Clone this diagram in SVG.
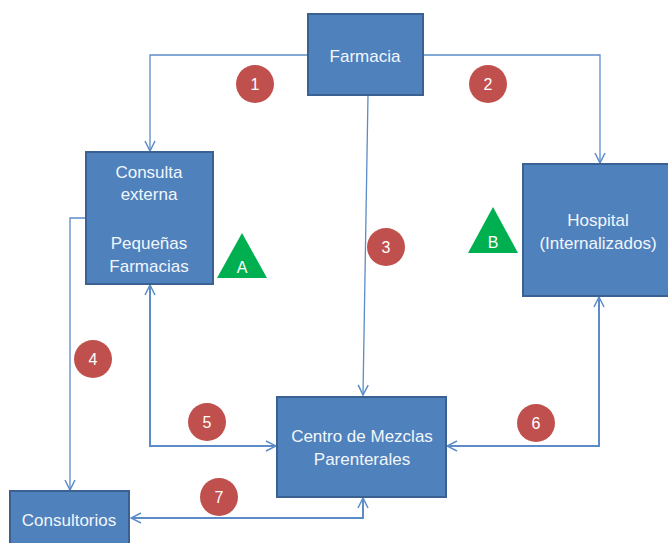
<svg xmlns="http://www.w3.org/2000/svg" width="668" height="543" viewBox="0 0 668 543">
  <defs>
    <style>
      .box { fill: #4F81BD; stroke: #3A6191; stroke-width: 2; }
      .lbl { font-family: "Liberation Sans", Arial, sans-serif; font-size: 17px; fill: #F2F6FB; text-anchor: middle; }
      .num { font-family: "Liberation Sans", Arial, sans-serif; font-size: 16px; fill: #FFFFFF; text-anchor: middle; }
      .badge { fill: #C0504D; }
      .tri { fill: #00B050; }
      .wire { fill: none; stroke: #5B8CC8; stroke-width: 1.3; }
      .wire2 { fill: none; stroke: #5B8CC8; stroke-width: 2; }
    </style>
    <marker id="head" viewBox="0 0 12 12" refX="11" refY="6" markerWidth="12" markerHeight="12" markerUnits="userSpaceOnUse" orient="auto-start-reverse">
      <path d="M1,1 L11,6 L1,11" fill="none" stroke="#5B8CC8" stroke-width="1.5"/>
    </marker>
  </defs>

  <rect width="668" height="543" fill="#FFFFFF"/>

  <!-- connectors -->
  <g id="connectors">
    <path class="wire" d="M308,55 H150 V151" marker-end="url(#head)"/>
    <path class="wire" d="M423,55 H600 V163" marker-end="url(#head)"/>
    <path class="wire" d="M368,95 L363,395" marker-end="url(#head)"/>
    <path class="wire" d="M86,218 H70 V490" marker-end="url(#head)"/>
    <path class="wire2" d="M150,285 V446 H276" marker-start="url(#head)" marker-end="url(#head)"/>
    <path class="wire2" d="M599,297 V446 H447" marker-start="url(#head)" marker-end="url(#head)"/>
    <path class="wire2" d="M363,498 V518 H131" marker-start="url(#head)" marker-end="url(#head)"/>
  </g>

  <g id="farmacia">
    <rect class="box" x="308" y="14" width="115" height="81"/>
    <text class="lbl" x="365" y="62">Farmacia</text>
  </g>

  <g id="consulta">
    <rect class="box" x="86" y="152" width="127" height="132"/>
    <text class="lbl" x="149" y="178">Consulta</text>
    <text class="lbl" x="149" y="200">externa</text>
    <text class="lbl" x="149" y="249">Pequeñas</text>
    <text class="lbl" x="149" y="272">Farmacias</text>
  </g>

  <g id="hospital">
    <rect class="box" x="523" y="164" width="150" height="132"/>
    <text class="lbl" x="598" y="226">Hospital</text>
    <text class="lbl" x="598" y="249">(Internalizados)</text>
  </g>

  <g id="centro">
    <rect class="box" x="277" y="397" width="169" height="100"/>
    <text class="lbl" x="362" y="442">Centro de Mezclas</text>
    <text class="lbl" x="362" y="465">Parenterales</text>
  </g>

  <g id="consultorios">
    <rect class="box" x="10" y="491" width="119" height="60"/>
    <text class="lbl" x="69" y="526">Consultorios</text>
  </g>

  <g id="triangulo-a">
    <polygon class="tri" points="242,233 267,278 217,278"/>
    <text class="num" x="242" y="273">A</text>
  </g>

  <g id="triangulo-b">
    <polygon class="tri" points="493,207 518,253 468,253"/>
    <text class="num" x="493" y="248">B</text>
  </g>

  <g id="paso-1"><circle class="badge" cx="255" cy="84" r="19"/><text class="num" x="255" y="90">1</text></g>
  <g id="paso-2"><circle class="badge" cx="488" cy="84" r="19"/><text class="num" x="488" y="90">2</text></g>
  <g id="paso-3"><circle class="badge" cx="386" cy="247" r="19"/><text class="num" x="386" y="253">3</text></g>
  <g id="paso-4"><circle class="badge" cx="93" cy="359" r="19"/><text class="num" x="93" y="365">4</text></g>
  <g id="paso-5"><circle class="badge" cx="207" cy="422" r="19"/><text class="num" x="207" y="428">5</text></g>
  <g id="paso-6"><circle class="badge" cx="536" cy="423" r="19"/><text class="num" x="536" y="429">6</text></g>
  <g id="paso-7"><circle class="badge" cx="219" cy="497" r="19"/><text class="num" x="219" y="503">7</text></g>
</svg>
